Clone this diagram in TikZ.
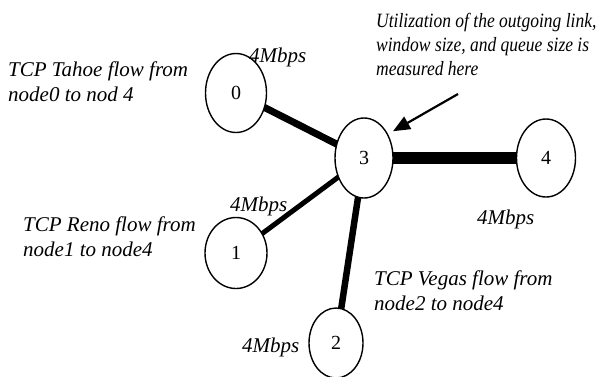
\documentclass[tikz,border=0pt]{standalone}
\usepackage{fontspec}
\setmainfont{Liberation Serif}
\usetikzlibrary{arrows.meta,shapes.geometric,backgrounds}

\begin{document}
\begin{tikzpicture}[x=1pt,y=-1pt,
  every node/.style={font=\fontsize{20}{24}\selectfont},
  nd/.style={draw, ellipse, line width=1.4pt, fill=white, inner sep=0pt},
  lbl/.style={anchor=north west, align=left, inner sep=0pt, font=\fontsize{21}{24.5}\selectfont\itshape},
  rate/.style={anchor=base west, inner sep=0pt, font=\fontsize{21}{25}\selectfont\itshape}]
\useasboundingbox (0,0) rectangle (596,376);
% nodes
\node[nd, minimum width=61pt, minimum height=79pt] (n0) at (236,93) {0};
\node[nd, minimum width=58pt, minimum height=80pt] (n3) at (364,158) {3};
\node[nd, minimum width=59pt, minimum height=78pt] (n4) at (546,158) {4};
\node[nd, minimum width=62pt, minimum height=71pt] (n1) at (236,253) {1};
\node[nd, minimum width=54pt, minimum height=70pt] (n2) at (336,343) {2};
% links
\begin{scope}[on background layer]
\draw[line width=7pt] (n0.center) -- (n3.center);
\draw[line width=11.5pt] (n3.center) -- (n4.center);
\draw[line width=5pt] (n1.center) -- (n3.center);
\draw[line width=6.5pt] (n2.center) -- (n3.center);
\end{scope}
% rates
\node[rate] (r0) at (249,62) {4Mbps};
\node[rate] (r1) at (230,211) {4Mbps};
\node[rate] (r2) at (242,352) {4Mbps};
\node[rate] (r4) at (477,224) {4Mbps};
% flows
\node[lbl] (tahoe) at (8,62) {TCP Tahoe flow from\\node0 to nod 4};
\node[lbl] (reno) at (23,217) {TCP Reno flow from\\node1 to node4};
\node[lbl] (vegas) at (374,271) {TCP Vegas flow from\\node2 to node4};
\node[lbl, font=\fontsize{17.5}{20.5}\selectfont\itshape, yscale=1.16, transform shape] (note) at (376,13)
  {Utilization of the outgoing link,\\window size, and queue size is\\measured here};
\coordinate (tail) at (458,94);
\draw[-{Triangle[length=17pt,width=14pt]}, line width=2.2pt] (tail) -- ([shift={(8,2)}]n3.north east);
\end{tikzpicture}
\end{document}
